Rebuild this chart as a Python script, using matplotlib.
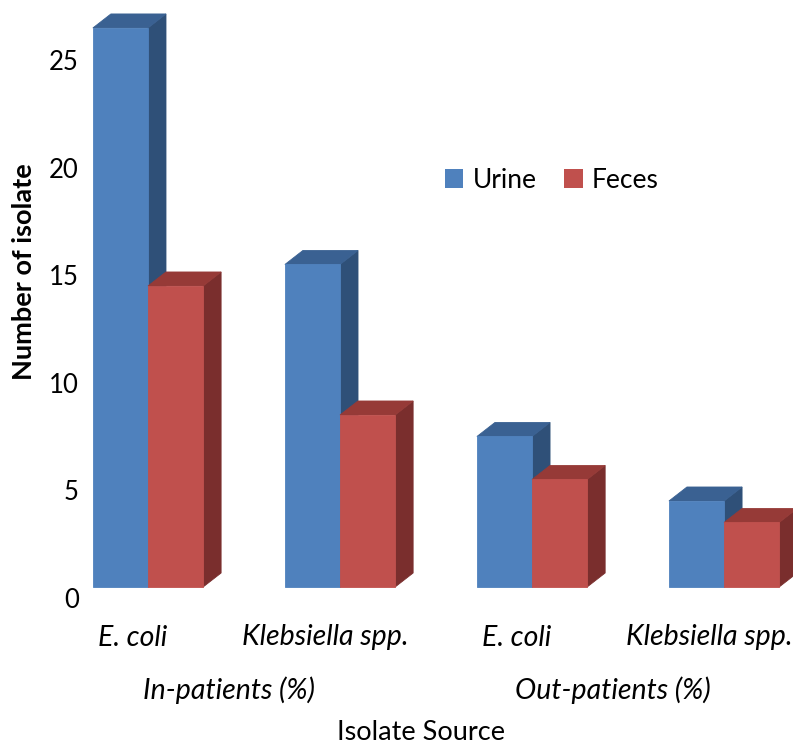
import matplotlib
matplotlib.use("Agg")
import matplotlib.pyplot as plt
from matplotlib.patches import Polygon, Patch
from matplotlib import transforms

plt.rcParams['font.family'] = ['Lato', 'DejaVu Sans']

# Data
categories = ["E. coli", "Klebsiella spp.", "E. coli", "Klebsiella spp."]
groups = ["In-patients (%)", "Out-patients (%)"]
urine = [26, 15, 7, 4]
feces = [14, 8, 5, 3]
yticks = [0, 5, 10, 15, 20, 25]

# Face colours: front, top, side
blue = ("#4F81BD", "#3A6192", "#2F5078")
red = ("#C0504D", "#963A37", "#7A2E2D")

W, H = 793, 745
fig = plt.figure(figsize=(W / 100, H / 100), dpi=100)
ax = fig.add_axes([90 / W, 158 / H, 703 / W, 587 / H])
ax.set_xlim(-0.302, 3.359)
ax.set_ylim(0, 27.30)
for s in ax.spines.values():
    s.set_visible(False)

# depth of the 3-D boxes, given in pixels and converted to data units
DX_PX, DY_PX = 18, 14
inv = ax.transData.inverted()
p0 = inv.transform(ax.transData.transform((0, 0)))
p1 = inv.transform(ax.transData.transform((0, 0)) + [DX_PX, DY_PX])
dx, dy = p1 - p0

bar_w = 0.287


def box(x0, h, cols):
    x1 = x0 + bar_w
    front = [(x0, 0), (x1, 0), (x1, h), (x0, h)]
    side = [(x1, 0), (x1 + dx, dy), (x1 + dx, h + dy), (x1, h)]
    top = [(x0, h), (x1, h), (x1 + dx, h + dy), (x0 + dx, h + dy)]
    for pts, c in ((side, cols[2]), (top, cols[1]), (front, cols[0])):
        ax.add_patch(Polygon(pts, closed=True, facecolor=c,
                             edgecolor=c, linewidth=0.6, clip_on=False))


for i in range(len(categories)):
    box(i - bar_w, urine[i], blue)
    box(i, feces[i], red)

# y axis
ax.set_yticks(yticks)
ax.set_yticklabels([str(v) for v in yticks], fontsize=18.5)
ax.tick_params(axis='y', length=0, pad=8)
for lab in ax.get_yticklabels():
    lab.set_transform(lab.get_transform() +
                      transforms.ScaledTranslation(0, -11 / 100, fig.dpi_scale_trans))

# x axis category labels
ax.set_xticks(range(len(categories)))
ax.set_xticklabels(categories, fontsize=20.5, fontstyle='italic')
ax.tick_params(axis='x', length=0, pad=27)
for lab in ax.get_xticklabels():
    lab.set_transform(lab.get_transform() +
                      transforms.ScaledTranslation(-15 / 100, 0, fig.dpi_scale_trans))

# group labels
blend = transforms.blended_transform_factory(ax.transData, ax.transAxes) + \
    transforms.ScaledTranslation(-15 / 100, 0, fig.dpi_scale_trans)
for j, g in enumerate(groups):
    ax.text(2 * j + 0.5, (587 - 690) / 587, g, transform=blend, fontsize=20.5,
            fontstyle='italic', ha='center', va='center')

ax.set_xlabel("Isolate Source", fontsize=19.5)
ax.xaxis.set_label_coords((421 - 90) / 703, (587 - 733) / 587)
ax.xaxis.label.set_va('center')

ax.set_ylabel("Number of isolate", fontsize=19.5, fontweight='bold')
ax.yaxis.set_label_coords((24 - 90) / 703, (587 - 272) / 587)
ax.yaxis.label.set_va('center')

handles = [Patch(facecolor=blue[0], edgecolor='none'),
           Patch(facecolor=red[0], edgecolor='none')]
fig.legend(handles, ["Urine", "Feces"], loc='center left',
           bbox_to_anchor=(445 / W, 1 - 180 / H), frameon=False, ncol=2,
           fontsize=19, handlelength=0.7, handleheight=0.7,
           handletextpad=0.35, columnspacing=1.05, borderpad=0, borderaxespad=0)

fig.savefig("out.png", dpi=100)
